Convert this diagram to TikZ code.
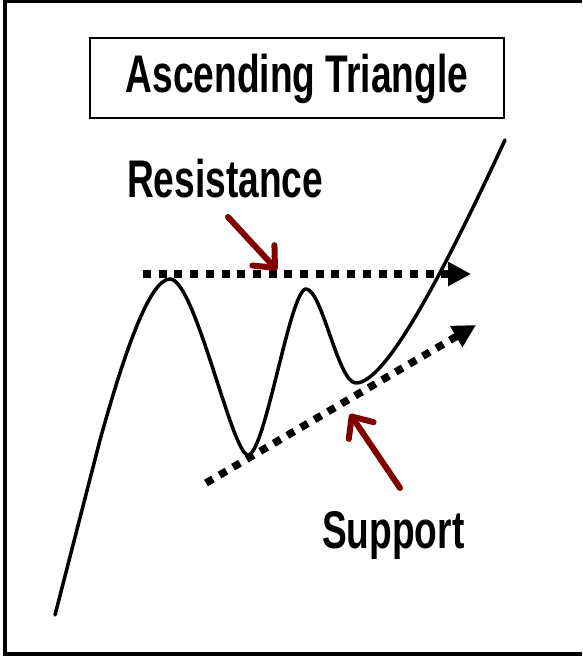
\documentclass[tikz,border=0pt]{standalone}
\usepackage{fontspec}
\usepackage{xcolor}
\usepackage{tikz}
\usetikzlibrary{arrows.meta,positioning,calc}

\newfontfamily\oswald[FakeStretch=0.7]{Liberation Sans}
\definecolor{darkred}{RGB}{128,0,0}

\begin{document}
\begin{tikzpicture}[
    x=1pt, y=-1pt,
    wordbox/.style={font=\oswald\bfseries\fontsize{53}{60}\selectfont, inner sep=0pt},
    titlebox/.style={wordbox, draw, line width=2pt, minimum width=414pt, minimum height=80pt, text height=38pt, text depth=8pt},
    price/.style={line width=3.5pt, line cap=round, line join=round},
    trend/.style={line width=7.5pt, dash pattern=on 8pt off 7.7pt, -{Triangle[length=23pt, width=23pt]}},
    pointer/.style={draw=darkred, line width=6pt, line cap=round, -{Straight Barb[length=17pt, width=30pt, line cap=round, line join=round]}}
]
    \useasboundingbox (0,0) rectangle (582,658);
    % frame
    \draw [line width=4pt] (582,1.5) -- (5,1.5) -- (5,654) -- (582,654);

    \node [titlebox] (title) at (297,78) {Ascending Triangle};
    \node [wordbox, anchor=base west] (res) at (127,197) {Resistance};
    \node [wordbox, anchor=base west] (sup) at (322,548) {Support};

    % price path
    \coordinate (start) at (55,615);
    \coordinate (peak1) at (170,279);
    \coordinate (low1) at (248,455);
    \coordinate (peak2) at (306,289);
    \coordinate (low2) at (356,383);
    \coordinate (break) at (505,140);
    \draw [price] (start) -- (100,440) .. controls (125,350) and (150,279) .. (peak1)
        .. controls (195,279) and (232,455) .. (low1)
        .. controls (265,455) and (290,289) .. (peak2)
        .. controls (322,289) and (338,383) .. (low2)
        .. controls (385,383) and (440,280) .. (break);

    % trend lines
    \coordinate (r1) at (143,274);
    \coordinate (r2) at (471,274);
    \coordinate (s1) at (206,483);
    \coordinate (s2) at (476,325);
    \draw [trend] (r1) -- (r2);
    \draw [trend] (s1) -- (s2);

    % pointers
    \coordinate (rtail) at (228,217);
    \coordinate (rtip) at (277,270);
    \coordinate (stail) at (400,488);
    \coordinate (stip) at (350,414);
    \draw [pointer] (rtail) -- (rtip);
    \draw [pointer] (stail) -- (stip);
\end{tikzpicture}
\end{document}
